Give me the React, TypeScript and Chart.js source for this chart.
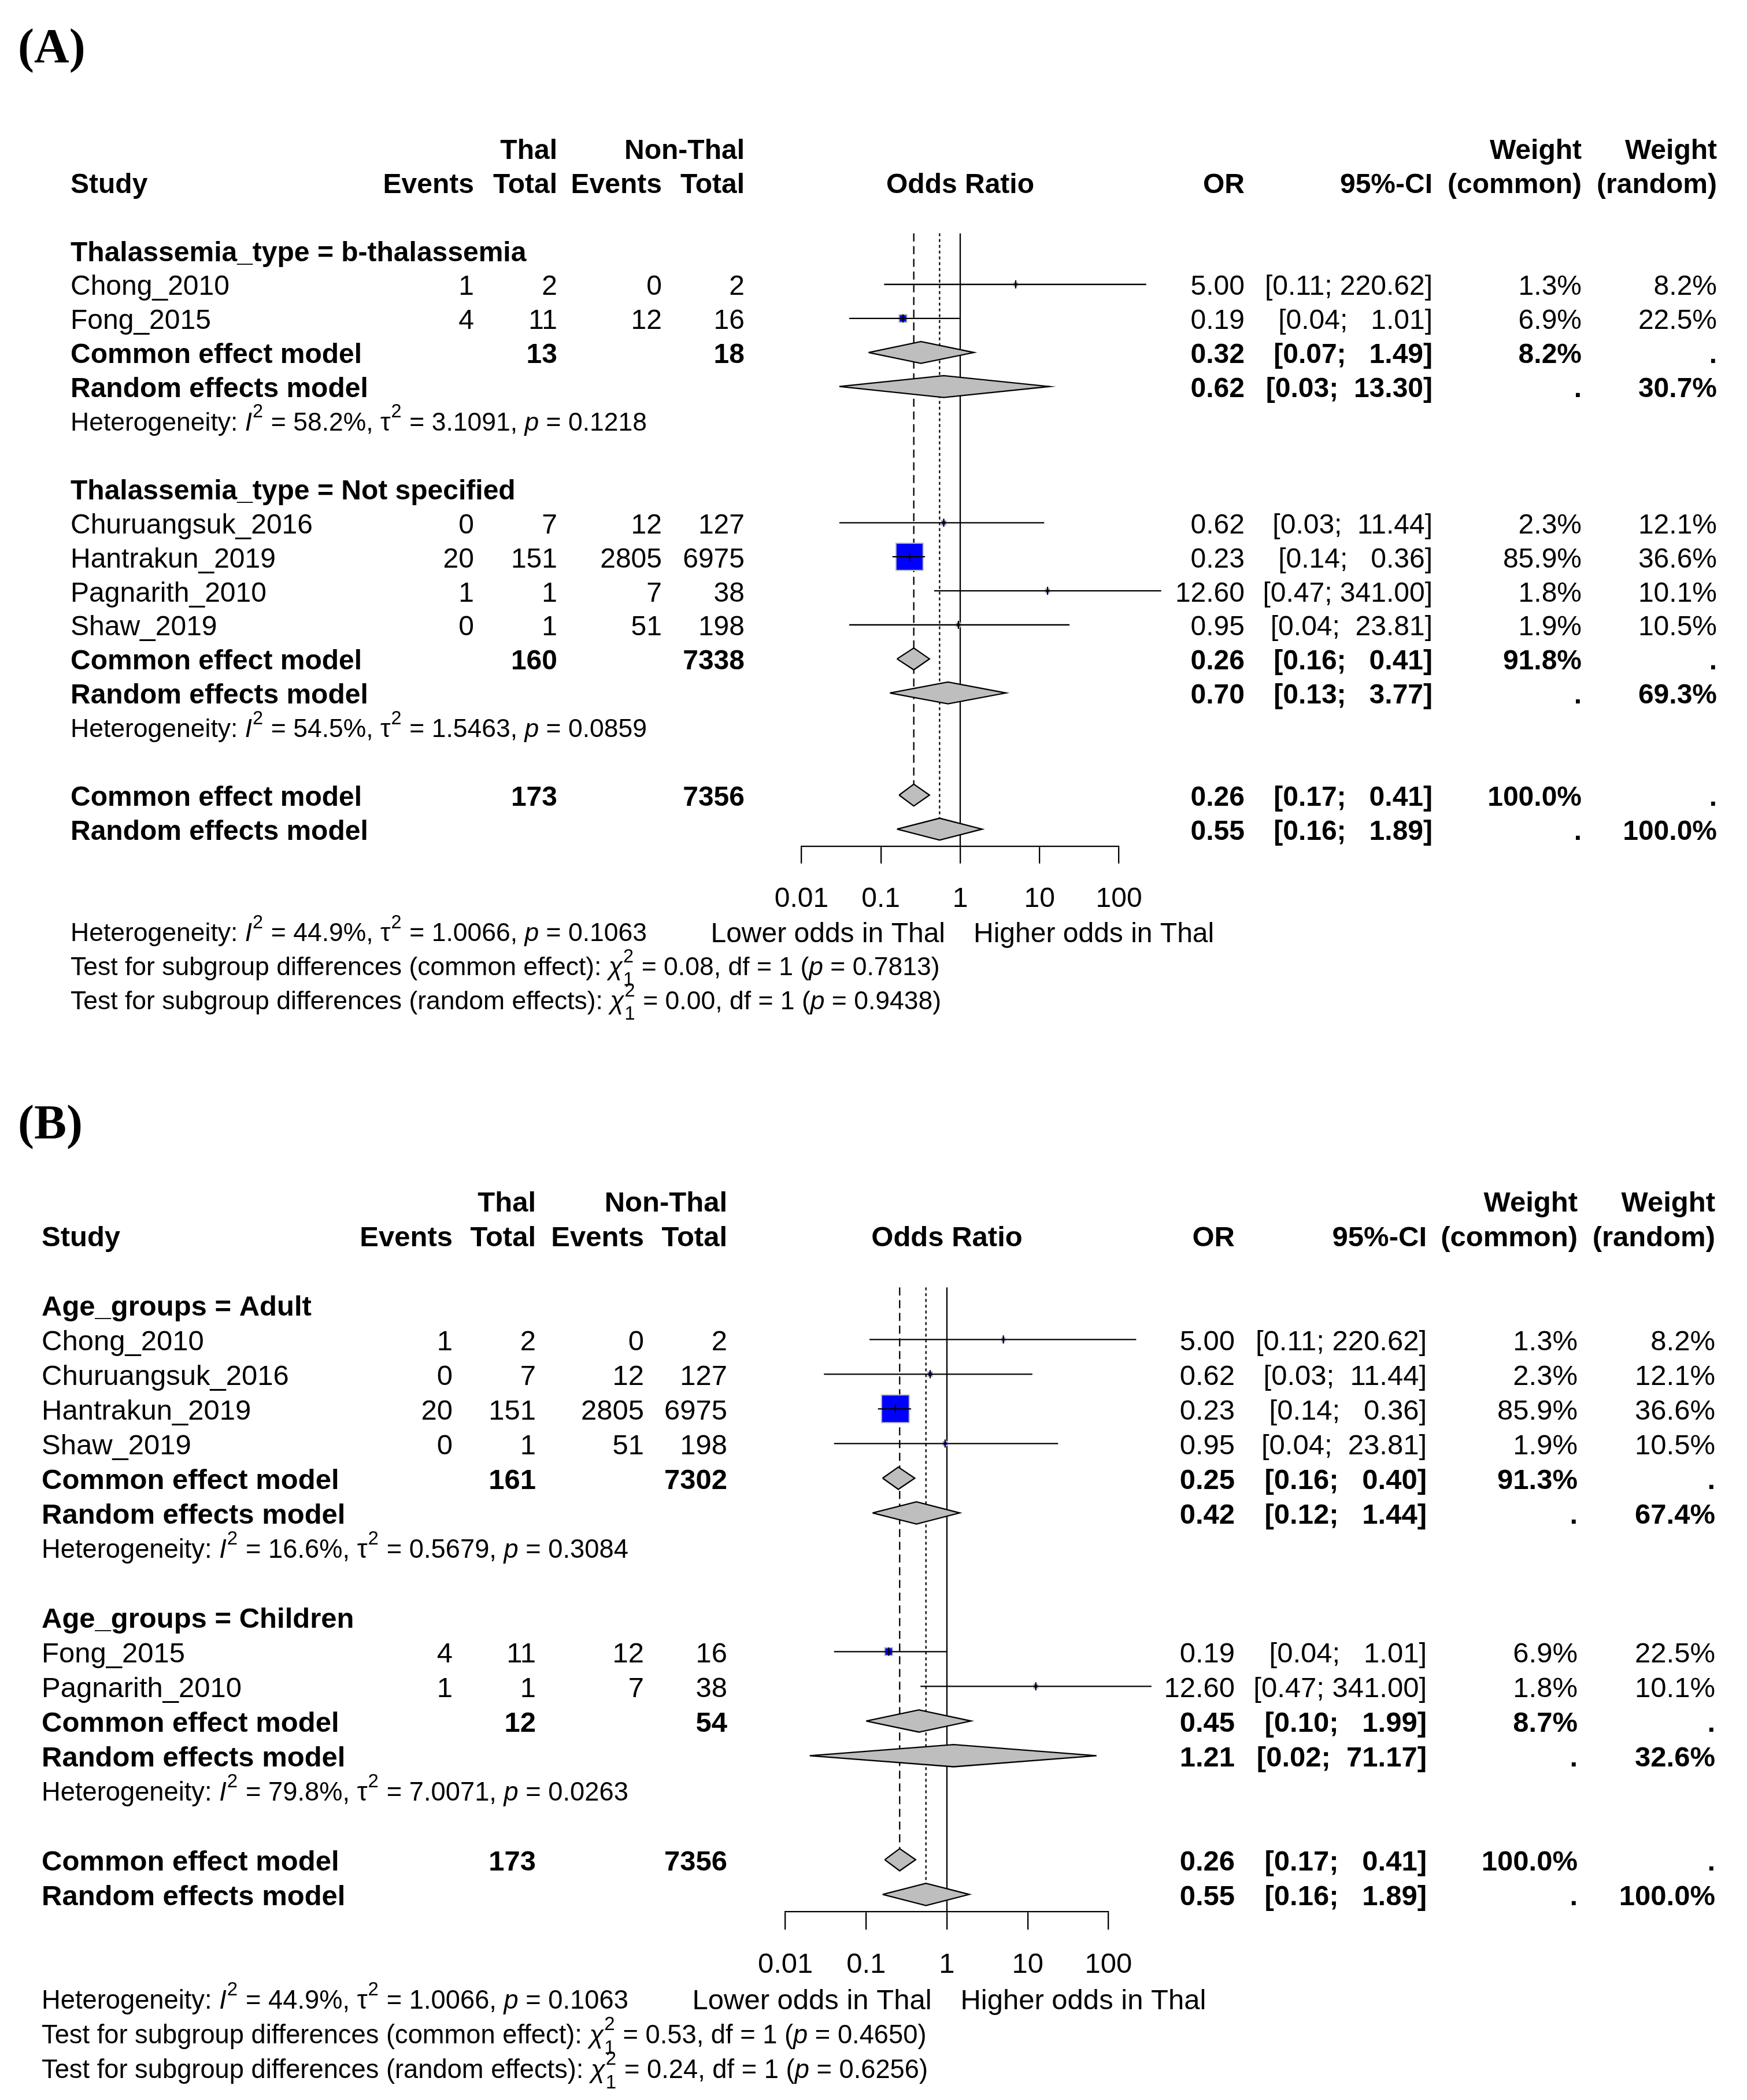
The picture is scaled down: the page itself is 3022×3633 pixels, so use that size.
import React, { useEffect, useRef } from "react";
import { Chart, registerables } from "chart.js";

Chart.register(...registerables);

const FONT = "'Liberation Sans', Arial, Helvetica, sans-serif";
const SERIF = "'Liberation Serif', 'Times New Roman', serif";

// ---------------- shared values ----------------
const xTicks = [0.01, 0.1, 1, 10, 100];
const overallTotals = [173, 7356];
const overallCommon = [0.26, 0.17, 0.41];
const overallRandom = [0.55, 0.16, 1.89];
const overallHet = ["44.9%", "1.0066", "0.1063"];
const axisSideLabels = ["Lower odds in Thal", "Higher odds in Thal"];

// ---------------- panel A values ----------------
const A_subgroupLabels = ["Thalassemia_type = b-thalassemia", "Thalassemia_type = Not specified"];
const A_studies = ["Chong_2010", "Fong_2015", "Churuangsuk_2016", "Hantrakun_2019", "Pagnarith_2010", "Shaw_2019"];
const A_studyGroup = [0, 0, 1, 1, 1, 1];
const A_eventsThal = [1, 4, 0, 20, 1, 0];
const A_totalThal = [2, 11, 7, 151, 1, 1];
const A_eventsNon = [0, 12, 12, 2805, 7, 51];
const A_totalNon = [2, 16, 127, 6975, 38, 198];
const A_or = [5.0, 0.19, 0.62, 0.23, 12.6, 0.95];
const A_lower = [0.11, 0.04, 0.03, 0.14, 0.47, 0.04];
const A_upper = [220.62, 1.01, 11.44, 0.36, 341.0, 23.81];
const A_wCommon = [1.3, 6.9, 2.3, 85.9, 1.8, 1.9];
const A_wRandom = [8.2, 22.5, 12.1, 36.6, 10.1, 10.5];
const A_subTotalThal = [13, 160];
const A_subTotalNon = [18, 7338];
const A_subCommonOR = [0.32, 0.26];
const A_subCommonLo = [0.07, 0.16];
const A_subCommonHi = [1.49, 0.41];
const A_subCommonW = [8.2, 91.8];
const A_subRandomOR = [0.62, 0.7];
const A_subRandomLo = [0.03, 0.13];
const A_subRandomHi = [13.3, 3.77];
const A_subRandomW = [30.7, 69.3];
const A_subI2 = ["58.2%", "54.5%"];
const A_subTau2 = ["3.1091", "1.5463"];
const A_subP = ["0.1218", "0.0859"];
const A_testCommon = ["0.08", "0.7813"];
const A_testRandom = ["0.00", "0.9438"];

// ---------------- panel B values ----------------
const B_subgroupLabels = ["Age_groups = Adult", "Age_groups = Children"];
const B_studies = ["Chong_2010", "Churuangsuk_2016", "Hantrakun_2019", "Shaw_2019", "Fong_2015", "Pagnarith_2010"];
const B_studyGroup = [0, 0, 0, 0, 1, 1];
const B_eventsThal = [1, 0, 20, 0, 4, 1];
const B_totalThal = [2, 7, 151, 1, 11, 1];
const B_eventsNon = [0, 12, 2805, 51, 12, 7];
const B_totalNon = [2, 127, 6975, 198, 16, 38];
const B_or = [5.0, 0.62, 0.23, 0.95, 0.19, 12.6];
const B_lower = [0.11, 0.03, 0.14, 0.04, 0.04, 0.47];
const B_upper = [220.62, 11.44, 0.36, 23.81, 1.01, 341.0];
const B_wCommon = [1.3, 2.3, 85.9, 1.9, 6.9, 1.8];
const B_wRandom = [8.2, 12.1, 36.6, 10.5, 22.5, 10.1];
const B_subTotalThal = [161, 12];
const B_subTotalNon = [7302, 54];
const B_subCommonOR = [0.25, 0.45];
const B_subCommonLo = [0.16, 0.1];
const B_subCommonHi = [0.4, 1.99];
const B_subCommonW = [91.3, 8.7];
const B_subRandomOR = [0.42, 1.21];
const B_subRandomLo = [0.12, 0.02];
const B_subRandomHi = [1.44, 71.17];
const B_subRandomW = [67.4, 32.6];
const B_subI2 = ["16.6%", "79.8%"];
const B_subTau2 = ["0.5679", "7.0071"];
const B_subP = ["0.3084", "0.0263"];
const B_testCommon = ["0.53", "0.4650"];
const B_testRandom = ["0.24", "0.6256"];

// ---------------- panel tables built from the arrays ----------------
const PANEL_A = {
  subgroups: A_subgroupLabels, studies: A_studies, group: A_studyGroup,
  evT: A_eventsThal, totT: A_totalThal, evN: A_eventsNon, totN: A_totalNon,
  or: A_or, lo: A_lower, hi: A_upper, wc: A_wCommon, wr: A_wRandom,
  subTotT: A_subTotalThal, subTotN: A_subTotalNon,
  cOR: A_subCommonOR, cLo: A_subCommonLo, cHi: A_subCommonHi, cW: A_subCommonW,
  rOR: A_subRandomOR, rLo: A_subRandomLo, rHi: A_subRandomHi, rW: A_subRandomW,
  i2: A_subI2, tau2: A_subTau2, p: A_subP, testC: A_testCommon, testR: A_testRandom,
};
const PANEL_B = {
  subgroups: B_subgroupLabels, studies: B_studies, group: B_studyGroup,
  evT: B_eventsThal, totT: B_totalThal, evN: B_eventsNon, totN: B_totalNon,
  or: B_or, lo: B_lower, hi: B_upper, wc: B_wCommon, wr: B_wRandom,
  subTotT: B_subTotalThal, subTotN: B_subTotalNon,
  cOR: B_subCommonOR, cLo: B_subCommonLo, cHi: B_subCommonHi, cW: B_subCommonW,
  rOR: B_subRandomOR, rLo: B_subRandomLo, rHi: B_subRandomHi, rW: B_subRandomW,
  i2: B_subI2, tau2: B_subTau2, p: B_subP, testC: B_testCommon, testR: B_testRandom,
};

// ---------------- layout (positions / styles) ----------------
const LAYOUT_A = {
  label: "(A)", top: 0, height: 1780, labelX: 31, labelBase: 108,
  c0: 256.4, pitch: 58.9, axisLeft: 1386.4, axisRight: 1935.6,
  font: 48, hetFont: 44.5, square: 47, tickLen: 30, tickPad: 33, s: 1,
  cols: { study: 122, evT: 820, totT: 964, evN: 1145, totN: 1288, or: 2153, ci: 2478, wc: 2736, wr: 2970 } as Record<string, number>,
};
const LAYOUT_B = {
  label: "(B)", top: 1780, height: 1853, labelX: 31, labelBase: 190,
  c0: 297.3, pitch: 60, axisLeft: 1358.6, axisRight: 1917.4,
  font: 49, hetFont: 45.3, square: 48, tickLen: 31, tickPad: 32, s: 1.018,
  cols: { study: 72, evT: 783, totT: 927, evN: 1114, totN: 1258, or: 2136, ci: 2468, wc: 2729, wr: 2967 } as Record<string, number>,
};

const LW = 2.3;
const DIAMOND_H = 0.32;
const GRAY = "#BEBEBE";

type Seg = { t?: string; it?: boolean; sup?: string; sub?: string };
type TItem = { r: number; col: string; align: "left" | "right" | "center"; segs: Seg[]; bold?: boolean; het?: boolean };

const f2 = (v: number) => v.toFixed(2);
const fmtCI = (lo: number, hi: number) => "[" + f2(lo).padStart(4, " ") + "; " + f2(hi).padStart(6, " ") + "]";
const fmtW = (w: number) => w.toFixed(1) + "%";

function T(r: number, col: string, align: "left" | "right" | "center", text: string, bold?: boolean): TItem {
  return { r, col, align, segs: [{ t: text }], bold };
}

function hetSegs(i2: string, tau2: string, p: string): Seg[] {
  return [
    { t: "Heterogeneity: " }, { t: "I", it: true }, { sup: "2" }, { t: " = " + i2 + ", " },
    { t: "τ" }, { sup: "2" }, { t: " = " + tau2 + ", " }, { t: "p", it: true }, { t: " = " + p },
  ];
}
function testSegs(kind: string, chi: string, df: number, p: string): Seg[] {
  return [
    { t: "Test for subgroup differences (" + kind + "): " }, { t: "χ", it: true }, { sup: "2", sub: String(df) },
    { t: " = " + chi + ", df = " + df + " (" }, { t: "p", it: true }, { t: " = " + p + ")" },
  ];
}

function lineDs(points: { x: number; y: number }[], order: number, dash: number[] = [], color = "#000") {
  return {
    type: "line", data: points, borderColor: color, borderWidth: LW, borderDash: dash,
    pointRadius: 0, fill: false, tension: 0, clip: false, order, borderCapStyle: "butt",
  };
}
function diamondDs(est: number, lo: number, hi: number, r: number) {
  return {
    type: "line",
    data: [{ x: lo, y: r }, { x: est, y: r - DIAMOND_H }, { x: hi, y: r }, { x: est, y: r + DIAMOND_H }, { x: lo, y: r }],
    borderColor: "#000", borderWidth: LW, backgroundColor: GRAY, fill: "shape",
    pointRadius: 0, tension: 0, clip: false, order: 40, borderJoinStyle: "miter",
  };
}

function buildPanel(d: typeof PANEL_A, L: typeof LAYOUT_A) {
  const texts: TItem[] = [];
  const datasets: any[] = [];
  // header
  texts.push(T(0, "totT", "right", "Thal", true));
  texts.push(T(0, "totN", "right", "Non-Thal", true));
  texts.push(T(0, "wc", "right", "Weight", true));
  texts.push(T(0, "wr", "right", "Weight", true));
  texts.push(T(1, "study", "left", "Study", true));
  texts.push(T(1, "evT", "right", "Events", true));
  texts.push(T(1, "totT", "right", "Total", true));
  texts.push(T(1, "evN", "right", "Events", true));
  texts.push(T(1, "totN", "right", "Total", true));
  texts.push(T(1, "plotCenter", "center", "Odds Ratio", true));
  texts.push(T(1, "or", "right", "OR", true));
  texts.push(T(1, "ci", "right", "95%-CI", true));
  texts.push(T(1, "wc", "right", "(common)", true));
  texts.push(T(1, "wr", "right", "(random)", true));

  const maxW = Math.max(...d.wc);
  const sq: { x: number; y: number }[] = [];
  const sqR: number[] = [];
  const ticks: { x: number; y: number }[] = [];
  let r = 3;
  d.subgroups.forEach((lab, g) => {
    texts.push(T(r, "study", "left", lab, true));
    r++;
    d.studies.forEach((name, i) => {
      if (d.group[i] !== g) return;
      texts.push(T(r, "study", "left", name));
      texts.push(T(r, "evT", "right", String(d.evT[i])));
      texts.push(T(r, "totT", "right", String(d.totT[i])));
      texts.push(T(r, "evN", "right", String(d.evN[i])));
      texts.push(T(r, "totN", "right", String(d.totN[i])));
      texts.push(T(r, "or", "right", f2(d.or[i])));
      texts.push(T(r, "ci", "right", fmtCI(d.lo[i], d.hi[i])));
      texts.push(T(r, "wc", "right", fmtW(d.wc[i])));
      texts.push(T(r, "wr", "right", fmtW(d.wr[i])));
      datasets.push(lineDs([{ x: d.lo[i], y: r }, { x: d.hi[i], y: r }], 20));
      sq.push({ x: d.or[i], y: r });
      const side = L.square * Math.sqrt(d.wc[i] / maxW);
      sqR.push(side / Math.SQRT2);
      ticks.push({ x: d.or[i], y: r });
      r++;
    });
    // common
    texts.push(T(r, "study", "left", "Common effect model", true));
    texts.push(T(r, "totT", "right", String(d.subTotT[g]), true));
    texts.push(T(r, "totN", "right", String(d.subTotN[g]), true));
    texts.push(T(r, "or", "right", f2(d.cOR[g]), true));
    texts.push(T(r, "ci", "right", fmtCI(d.cLo[g], d.cHi[g]), true));
    texts.push(T(r, "wc", "right", fmtW(d.cW[g]), true));
    texts.push(T(r, "wr", "right", ".", true));
    datasets.push(diamondDs(d.cOR[g], d.cLo[g], d.cHi[g], r));
    r++;
    // random
    texts.push(T(r, "study", "left", "Random effects model", true));
    texts.push(T(r, "or", "right", f2(d.rOR[g]), true));
    texts.push(T(r, "ci", "right", fmtCI(d.rLo[g], d.rHi[g]), true));
    texts.push(T(r, "wc", "right", ".", true));
    texts.push(T(r, "wr", "right", fmtW(d.rW[g]), true));
    datasets.push(diamondDs(d.rOR[g], d.rLo[g], d.rHi[g], r));
    r++;
    texts.push({ r, col: "study", align: "left", segs: hetSegs(d.i2[g], d.tau2[g], d.p[g]), het: true });
    r++;
    r++; // blank
  });
  const rc = r;
  const rr = r + 1;
  texts.push(T(rc, "study", "left", "Common effect model", true));
  texts.push(T(rc, "totT", "right", String(overallTotals[0]), true));
  texts.push(T(rc, "totN", "right", String(overallTotals[1]), true));
  texts.push(T(rc, "or", "right", f2(overallCommon[0]), true));
  texts.push(T(rc, "ci", "right", fmtCI(overallCommon[1], overallCommon[2]), true));
  texts.push(T(rc, "wc", "right", "100.0%", true));
  texts.push(T(rc, "wr", "right", ".", true));
  datasets.push(diamondDs(overallCommon[0], overallCommon[1], overallCommon[2], rc));
  texts.push(T(rr, "study", "left", "Random effects model", true));
  texts.push(T(rr, "or", "right", f2(overallRandom[0]), true));
  texts.push(T(rr, "ci", "right", fmtCI(overallRandom[1], overallRandom[2]), true));
  texts.push(T(rr, "wc", "right", ".", true));
  texts.push(T(rr, "wr", "right", "100.0%", true));
  datasets.push(diamondDs(overallRandom[0], overallRandom[1], overallRandom[2], rr));

  const lastRow = rr;
  const df = d.subgroups.length - 1;
  texts.push({ r: lastRow + 3, col: "study", align: "left", segs: hetSegs(overallHet[0], overallHet[1], overallHet[2]), het: true });
  texts.push({ r: lastRow + 3, col: "lowerLab", align: "right", segs: [{ t: axisSideLabels[0] }] });
  texts.push({ r: lastRow + 3, col: "higherLab", align: "left", segs: [{ t: axisSideLabels[1] }] });
  texts.push({ r: lastRow + 4, col: "study", align: "left", segs: testSegs("common effect", d.testC[0], df, d.testC[1]), het: true });
  texts.push({ r: lastRow + 5, col: "study", align: "left", segs: testSegs("random effects", d.testR[0], df, d.testR[1]), het: true });

  // reference lines
  datasets.push(lineDs([{ x: 1, y: 2.5 }, { x: 1, y: lastRow + 0.5 }], 50));
  datasets.push(lineDs([{ x: overallCommon[0], y: 2.5 }, { x: overallCommon[0], y: rc - DIAMOND_H }], 50, [14, 8]));
  datasets.push(lineDs([{ x: overallRandom[0], y: 2.5 }, { x: overallRandom[0], y: rr - DIAMOND_H }], 50, [5, 5]));

  // squares and estimate ticks
  datasets.push({
    type: "scatter", data: sq, pointStyle: "rect", pointRadius: sqR, pointHoverRadius: sqR,
    pointBackgroundColor: "#0000FF", pointBorderColor: GRAY, pointBorderWidth: 2,
    backgroundColor: "#0000FF", borderColor: GRAY, clip: false, order: 30, showLine: false,
  });
  datasets.push({
    type: "scatter", data: ticks, pointStyle: "line", pointRotation: 90, pointRadius: 7,
    pointBorderColor: "#000", pointBorderWidth: LW, borderColor: "#000", clip: false, order: 10, showLine: false,
  });
  return { texts, datasets, lastRow };
}

function fontStr(size: number, bold?: boolean, it?: boolean) {
  return `${it ? "italic " : ""}${bold ? "bold " : ""}${size}px ${FONT}`;
}
function segWidth(ctx: CanvasRenderingContext2D, s: Seg, size: number, bold?: boolean) {
  if (s.sup !== undefined || s.sub !== undefined) {
    ctx.font = fontStr(size * 0.73, bold);
    return Math.max(s.sup ? ctx.measureText(s.sup).width : 0, s.sub ? ctx.measureText(s.sub).width : 0) + size * 0.05;
  }
  ctx.font = fontStr(size, bold, !!s.it);
  return ctx.measureText(s.t || "").width;
}
function drawRich(ctx: CanvasRenderingContext2D, segs: Seg[], x: number, y: number, size: number, bold: boolean | undefined, align: string) {
  const ws = segs.map((s) => segWidth(ctx, s, size, bold));
  const total = ws.reduce((a, b) => a + b, 0);
  let cx = align === "right" ? x - total : align === "center" ? x - total / 2 : x;
  ctx.textAlign = "left";
  ctx.textBaseline = "alphabetic";
  ctx.fillStyle = "#000";
  segs.forEach((s, i) => {
    if (s.sup !== undefined || s.sub !== undefined) {
      ctx.font = fontStr(size * 0.73, bold);
      if (s.sup) ctx.fillText(s.sup, cx + size * 0.02, y - size * 0.5);
      if (s.sub) ctx.fillText(s.sub, cx + size * 0.02, y + size * 0.4);
    } else {
      ctx.font = fontStr(size, bold, !!s.it);
      ctx.fillText(s.t || "", cx, y);
    }
    cx += ws[i];
  });
}

function makeConfig(d: typeof PANEL_A, L: typeof LAYOUT_A): any {
  const built = buildPanel(d, L);
  const axisH = L.tickLen + L.font * 1.2 + 2 * L.tickPad;
  const chartTop = L.c0 - L.pitch;
  const chartBottom = L.c0 + (built.lastRow + 0.5) * L.pitch;
  const textPlugin = {
    id: "forestText",
    afterDraw(chart: any) {
      const ctx: CanvasRenderingContext2D = chart.ctx;
      const ys = chart.scales.y;
      const xs = chart.scales.x;
      const ca = chart.chartArea;
      ctx.save();
      ctx.fillStyle = "#000";
      ctx.textAlign = "left";
      ctx.textBaseline = "alphabetic";
      ctx.font = `bold 84px ${SERIF}`;
      ctx.fillText(L.label, L.labelX, L.labelBase);
      for (const it of built.texts) {
        const size = it.het ? L.hetFont : L.font;
        const y = ys.getPixelForValue(it.r) + size * 0.385;
        let x: number;
        if (it.col === "plotCenter") x = (ca.left + ca.right) / 2;
        else if (it.col === "lowerLab") x = xs.getPixelForValue(1) - 26 * L.s;
        else if (it.col === "higherLab") x = xs.getPixelForValue(1) + 23 * L.s;
        else x = L.cols[it.col];
        drawRich(ctx, it.segs, x, y, size, it.bold, it.align);
      }
      ctx.restore();
    },
  };
  return {
    type: "scatter",
    data: { datasets: built.datasets },
    options: {
      animation: false,
      responsive: false,
      maintainAspectRatio: false,
      devicePixelRatio: 1,
      events: [],
      layout: {
        padding: {
          left: L.axisLeft,
          right: 3022 - L.axisRight,
          top: chartTop,
          bottom: L.height - chartBottom - axisH,
        },
      },
      plugins: { legend: { display: false }, tooltip: { enabled: false }, title: { display: false } },
      scales: {
        x: {
          type: "logarithmic",
          min: 0.01,
          max: 100,
          bounds: "data",
          afterBuildTicks: (s: any) => {
            s.ticks = xTicks.map((v) => ({ value: v }));
          },
          ticks: {
            callback: (v: any) => String(v),
            font: { family: FONT, size: L.font },
            color: "#000",
            padding: L.tickPad,
            autoSkip: false,
            maxRotation: 0,
            minRotation: 0,
            major: { enabled: false },
          },
          grid: { display: true, drawOnChartArea: false, drawTicks: true, tickLength: L.tickLen, color: "#000", lineWidth: LW },
          border: { display: true, color: "#000", width: LW },
        },
        y: { type: "linear", reverse: true, min: -1, max: built.lastRow + 0.5, bounds: "data", display: false },
      },
    },
    plugins: [textPlugin],
  };
}

function ForestCanvas({ data, layout }: { data: typeof PANEL_A; layout: typeof LAYOUT_A }) {
  const ref = useRef<HTMLCanvasElement>(null);
  useEffect(() => {
    if (!ref.current) return;
    const chart = new Chart(ref.current, makeConfig(data, layout));
    return () => chart.destroy();
  }, [data, layout]);
  return (
    <canvas
      ref={ref}
      width={3022}
      height={layout.height}
      style={{ position: "absolute", left: 0, top: layout.top, width: 3022, height: layout.height, display: "block" }}
    />
  );
}

export default function App() {
  return (
    <div style={{ position: "absolute", left: 0, top: 0, width: 3022, height: 3633, overflow: "hidden", background: "#fff" }}>
      <ForestCanvas data={PANEL_A} layout={LAYOUT_A} />
      <ForestCanvas data={PANEL_B} layout={LAYOUT_B} />
    </div>
  );
}
